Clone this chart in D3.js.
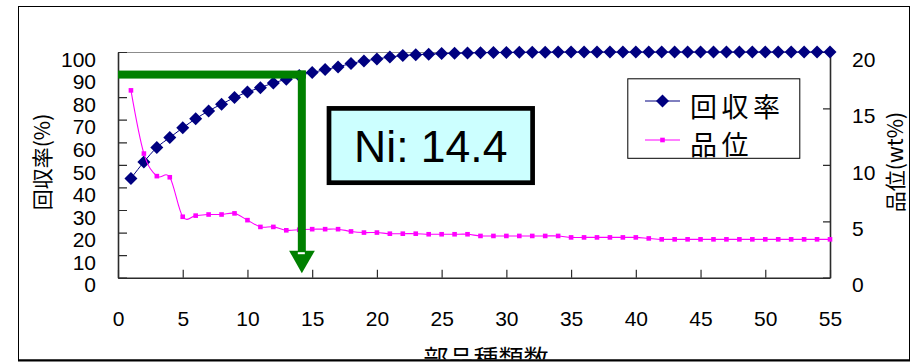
<!DOCTYPE html>
<html>
<head>
<meta charset="utf-8">
<script src="https://cdn.jsdelivr.net/npm/d3@7/dist/d3.min.js"></script>
<style>
  html, body { margin: 0; padding: 0; background: #fff; }
  svg { display: block; }
</style>
</head>
<body>
<svg id="chart" width="912" height="362"></svg>
<script>
// ---------- data ----------
const partCounts = [1,2,3,4,5,6,7,8,9,10,11,12,13,14,15,16,17,18,19,20,21,22,23,24,25,26,27,28,29,30,31,32,33,34,35,36,37,38,39,40,41,42,43,44,45,46,47,48,49,50,51,52,53,54,55];
const recovery = [44.0,51.3,57.7,62.1,66.4,70.4,73.9,76.9,79.8,82.3,84.2,86.3,87.9,89.6,90.9,92.2,93.4,94.9,96.0,96.9,97.8,98.4,98.8,99.0,99.3,99.4,99.6,99.7,99.8,99.8,99.9,99.9,99.9,100,100,100,100,100,100,100,100,100,100,100,100,100,100,100,100,100,100,100,100,100,100];
const grade = [16.6,11.0,9.0,8.9,5.4,5.5,5.6,5.6,5.7,5.1,4.5,4.5,4.2,4.25,4.3,4.3,4.3,4.1,4.0,4.0,3.9,3.9,3.9,3.85,3.85,3.85,3.85,3.7,3.7,3.7,3.7,3.7,3.7,3.7,3.57,3.57,3.57,3.57,3.57,3.57,3.48,3.4,3.4,3.4,3.4,3.4,3.4,3.4,3.4,3.4,3.4,3.4,3.4,3.4,3.4];
const xTicks = [0,5,10,15,20,25,30,35,40,45,50,55];
const yLeftTicks = [0,10,20,30,40,50,60,70,80,90,100];
const yRightTicks = [0,5,10,15,20];
const seriesNames = ["回収率", "品位"];
const xTitle = "部品種類数";
const yLeftTitle = "回収率(%)";
const yRightTitle = "品位(wt%)";
const annotationText = "Ni: 14.4";
const markerCount = 14.2;   // x position of the arrow
const markerRecovery = 90;  // recovery level of the arrow

// ---------- layout ----------
const svg = d3.select("#chart");
const L = 118, R = 830, T = 52, B = 277.7;
const numFont = "'Liberation Sans', Arial, sans-serif";
const jpFont = "'Noto Sans CJK JP', 'Noto Sans', sans-serif";

const x = d3.scaleLinear().domain([0, 55]).range([L, R]);
const y = d3.scaleLinear().domain([0, 100]).range([B, T]);
const y2 = d3.scaleLinear().domain([0, 20]).range([B, T]);

svg.append("rect").attr("width", 912).attr("height", 362).attr("fill", "#fff");

// clip for outer frame
const defs = svg.append("defs");
defs.append("clipPath").attr("id", "frameClip")
  .append("rect").attr("x", 18).attr("y", 6).attr("width", 892).attr("height", 353.5);

const root = svg.append("g").attr("clip-path", "url(#frameClip)");

// plot-area top border
root.append("line").attr("x1", L).attr("x2", R).attr("y1", T + 0.5).attr("y2", T + 0.5)
  .attr("stroke", "#8c8c8c").attr("stroke-width", 1);

// axes
const axColor = "#2b2b2b";
const gx = root.append("g").attr("transform", `translate(0,${B})`)
  .call(d3.axisBottom(x).tickValues(xTicks).tickSize(-8).tickSizeOuter(0).tickPadding(33.5));
const gy = root.append("g").attr("transform", `translate(${L},0)`)
  .call(d3.axisLeft(y).tickValues(yLeftTicks).tickSize(-9).tickSizeOuter(0).tickPadding(22));
const gy2 = root.append("g").attr("transform", `translate(${R},0)`)
  .call(d3.axisRight(y2).tickValues(yRightTicks).tickSize(-7).tickSizeOuter(0).tickPadding(22));

[gx, gy, gy2].forEach(g => {
  g.select(".domain").attr("stroke", axColor).attr("stroke-width", 1.6);
  g.selectAll(".tick line").attr("stroke", axColor).attr("stroke-width", 1.2);
  g.selectAll(".tick text").attr("fill", "#000").attr("font-family", numFont).attr("font-size", 21);
});
gy.selectAll(".tick text").attr("transform", "translate(0,7.5)");
gy2.selectAll(".tick text").attr("transform", "translate(0,7.5)");

// axis titles
root.append("text")
  .attr("transform", `translate(42,162) rotate(-90)`)
  .attr("text-anchor", "middle").attr("dy", "0.36em")
  .attr("font-family", jpFont).attr("font-size", 21).attr("fill", "#000")
  .text(yLeftTitle);
root.append("text")
  .attr("transform", `translate(895,162) rotate(-90)`)
  .attr("text-anchor", "middle").attr("dy", "0.36em")
  .attr("font-family", jpFont).attr("font-size", 21).attr("fill", "#000")
  .text(yRightTitle);
root.append("text")
  .attr("x", 486).attr("y", 368)
  .attr("text-anchor", "middle")
  .attr("font-family", jpFont).attr("font-size", 25).attr("fill", "#000")
  .text(xTitle);

// recovery series
const recData = partCounts.map((c, i) => ({ c, v: recovery[i] }));
const gradeData = partCounts.map((c, i) => ({ c, v: grade[i] }));

root.append("path").datum(recData)
  .attr("fill", "none").attr("stroke", "#000080").attr("stroke-width", 1)
  .attr("d", d3.line().x(d => x(d.c)).y(d => y(d.v)).curve(d3.curveCatmullRom.alpha(0)));

const dh = 6.5;
root.append("g").selectAll("path").data(recData).join("path")
  .attr("d", d => {
    const cx = x(d.c), cy = y(d.v);
    return `M${cx},${cy - dh}L${cx + dh},${cy}L${cx},${cy + dh}L${cx - dh},${cy}Z`;
  })
  .attr("fill", "#000080");

// grade series
root.append("path").datum(gradeData)
  .attr("fill", "none").attr("stroke", "#ff00ff").attr("stroke-width", 1.1)
  .attr("d", d3.line().x(d => x(d.c)).y(d => y2(d.v)).curve(d3.curveCatmullRom.alpha(0)));

const sq = 4.6;
root.append("g").selectAll("rect").data(gradeData).join("rect")
  .attr("x", d => x(d.c) - sq / 2).attr("y", d => y2(d.v) - sq / 2)
  .attr("width", sq).attr("height", sq).attr("fill", "#ff00ff");

// green arrow
const ax = x(markerCount), ay = y(markerRecovery);
const green = "#008000";
root.append("rect").attr("x", L).attr("y", ay - 4).attr("width", ax - L + 4).attr("height", 8).attr("fill", green);
const headTop = 250.7, tipY = B - 4.4;
root.append("rect").attr("x", ax - 4).attr("y", ay - 4).attr("width", 8).attr("height", headTop - ay + 4 + 0.5).attr("fill", green);
root.append("path")
  .attr("d", `M${ax - 12.7},${headTop}L${ax + 13},${headTop}L${ax},${tipY}Z`)
  .attr("fill", green);
root.append("rect").attr("x", ax - 4).attr("y", headTop + 1.5).attr("width", 7).attr("height", 2).attr("fill", "#fff");

// annotation box
root.append("rect").attr("x", 329).attr("y", 108.4).attr("width", 203.6).attr("height", 74.3)
  .attr("fill", "#ccffff").attr("stroke", "#000").attr("stroke-width", 4.7);
root.append("text").attr("x", 430.8).attr("y", 161.7)
  .attr("text-anchor", "middle")
  .attr("font-family", numFont).attr("font-size", 44.5).attr("fill", "#000")
  .text(annotationText);

// legend
const lg = root.append("g");
defs.append("clipPath").attr("id", "legClip")
  .append("rect").attr("x", 627.3).attr("y", 78.3).attr("width", 172.7).attr("height", 80);
lg.append("rect").attr("x", 627.8).attr("y", 78.8).attr("width", 172).attr("height", 79.5)
  .attr("fill", "#fff").attr("stroke", "#000").attr("stroke-width", 1);
const legRows = [
  { name: seriesNames[0], color: "#000080", ly: 101, ty: 107, marker: "diamond" },
  { name: seriesNames[1], color: "#ff00ff", ly: 140, ty: 144.8, marker: "square" }
];
const lgc = lg.append("g").attr("clip-path", "url(#legClip)");
legRows.forEach(r => {
  lgc.append("line").attr("x1", 645).attr("x2", 680).attr("y1", r.ly).attr("y2", r.ly)
    .attr("stroke", r.color).attr("stroke-width", 1);
  if (r.marker === "diamond") {
    lgc.append("path").attr("d", `M662.5,${r.ly - dh}L${662.5 + dh},${r.ly}L662.5,${r.ly + dh}L${662.5 - dh},${r.ly}Z`).attr("fill", r.color);
  } else {
    lgc.append("rect").attr("x", 662.5 - sq / 2).attr("y", r.ly - sq / 2).attr("width", sq).attr("height", sq).attr("fill", r.color);
  }
  lgc.append("text").attr("x", 690).attr("y", r.ty).attr("dy", "0.38em")
    .attr("font-family", jpFont).attr("font-size", 27).attr("letter-spacing", 4.5).attr("fill", "#000")
    .text(r.name);
});

// outer frame
svg.append("rect").attr("x", 18.5).attr("y", 6.5).attr("width", 891).attr("height", 353.5)
  .attr("fill", "none").attr("stroke", "#000").attr("stroke-width", 1);
svg.append("line").attr("x1", 18).attr("x2", 910).attr("y1", 360.5).attr("y2", 360.5)
  .attr("stroke", "#000").attr("stroke-width", 2);
</script>
</body>
</html>
